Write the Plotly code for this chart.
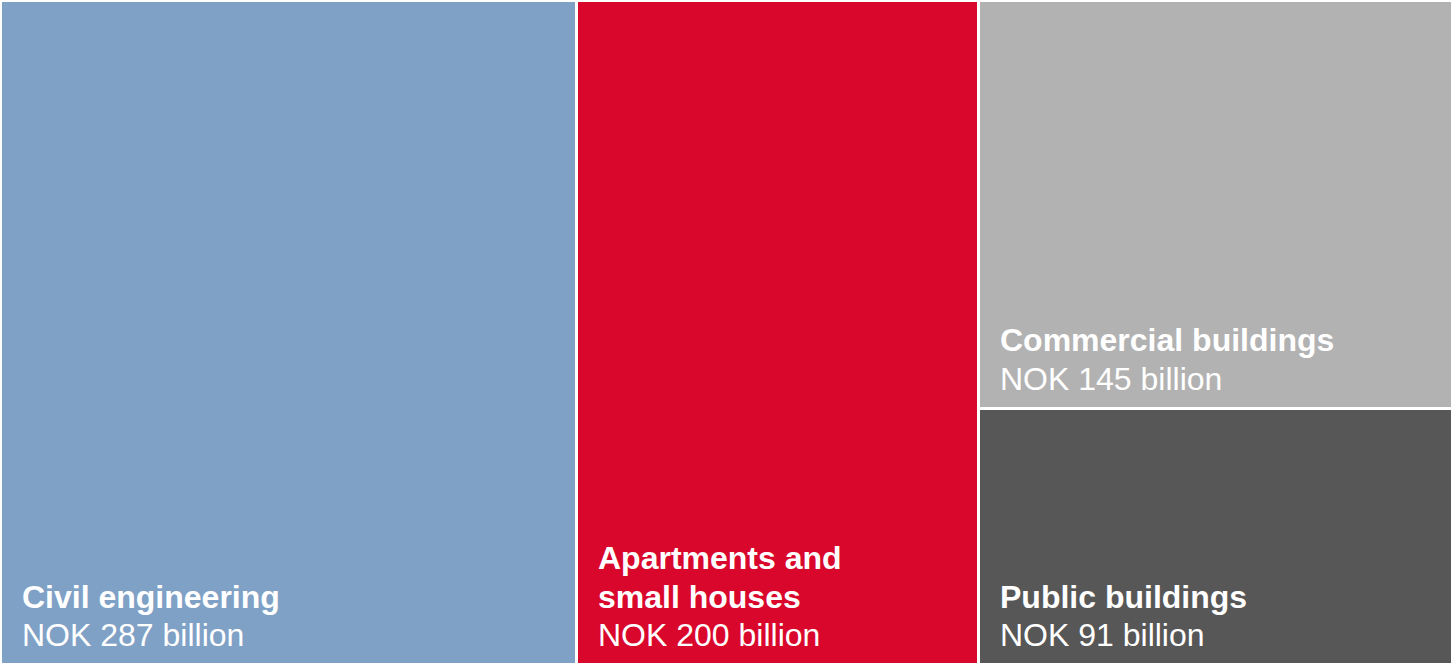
import plotly.graph_objects as go

# Data (NOK billion)
names = [["Civil engineering"], ["Apartments and", "small houses"], ["Commercial buildings"], ["Public buildings"]]
values = [287, 200, 145, 91]
colors = ["#7FA1C6", "#DA072C", "#B2B2B2", "#575757"]

# Columns: first two are full-height, last column stacks public (bottom) + commercial (top)
col_widths = [values[0], values[1], values[2] + values[3]]
col_starts = [sum(col_widths[:i]) for i in range(len(col_widths))]
total = sum(col_widths)

right_total = values[2] + values[3]
cells = [
    (0, 0.0, 1.0),
    (1, 0.0, 1.0),
    (2, values[3] / right_total, values[2] / right_total),
    (2, 0.0, values[3] / right_total),
]

FONT = "Liberation Sans, Arial, sans-serif"
LINE = 38.5
FIRST = 30

fig = go.Figure()
for i, (c, base, h) in enumerate(cells):
    fig.add_trace(go.Bar(
        x=[col_starts[c] + col_widths[c] / 2],
        y=[h],
        base=[base],
        width=[col_widths[c]],
        marker=dict(color=colors[i], line=dict(color="white", width=3)),
        hoverinfo="skip",
        showlegend=False,
    ))
    lines = [(f"<b>{t}</b>") for t in names[i]] + [f"NOK {values[i]} billion"]
    n = len(lines)
    for k, t in enumerate(lines):
        fig.add_annotation(
            x=col_starts[c], y=base, xref="x", yref="y",
            xanchor="left", yanchor="middle", align="left",
            xshift=19, yshift=FIRST + (n - 1 - k) * LINE, showarrow=False,
            text=t,
            font=dict(family=FONT, size=32, color="white"),
        )

fig.update_layout(
    width=1453, height=665,
    margin=dict(l=1, r=0, t=1, b=0),
    plot_bgcolor="white", paper_bgcolor="white",
    barmode="overlay", bargap=0,
    xaxis=dict(range=[0, total], visible=False, fixedrange=True),
    yaxis=dict(range=[0, 1], visible=False, fixedrange=True),
)

fig.write_html(
    "out.html",
    config={"displayModeBar": False},
    post_script="document.body.style.margin='0px';document.body.style.overflow='hidden';",
)
